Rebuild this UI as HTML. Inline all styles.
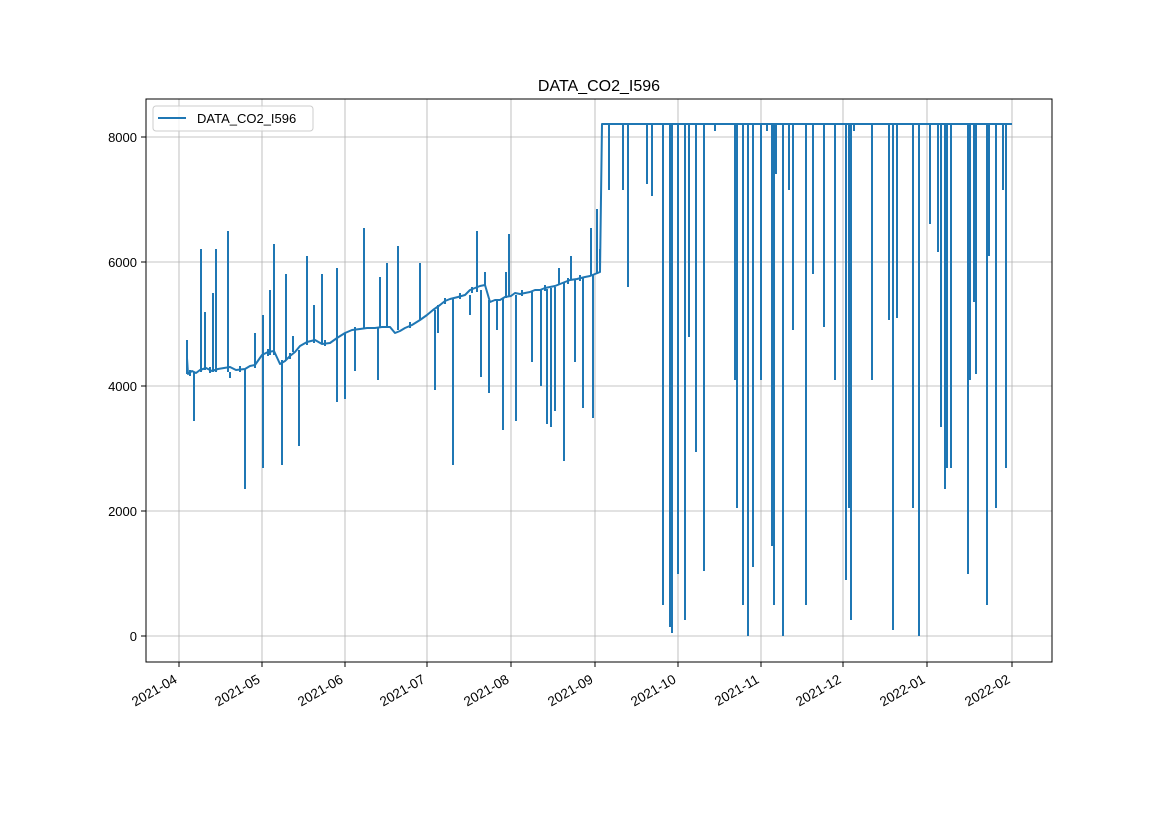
<!DOCTYPE html>
<html><head><meta charset="utf-8"><style>
html,body{margin:0;padding:0;background:#fff;}
svg{display:block;font-family:"Liberation Sans","DejaVu Sans",sans-serif;}
</style></head><body>
<svg width="1169" height="827" viewBox="0 0 1169 827" xmlns="http://www.w3.org/2000/svg">
<rect width="1169" height="827" fill="#fff"/>
<text x="599" y="91" font-size="16" text-anchor="middle">DATA_CO2_I596</text>
<g stroke="#b0b0b0" stroke-width="0.8">
<line x1="179" y1="99" x2="179" y2="662"/><line x1="262" y1="99" x2="262" y2="662"/>
<line x1="345" y1="99" x2="345" y2="662"/><line x1="427" y1="99" x2="427" y2="662"/>
<line x1="511" y1="99" x2="511" y2="662"/><line x1="595" y1="99" x2="595" y2="662"/>
<line x1="678" y1="99" x2="678" y2="662"/><line x1="761" y1="99" x2="761" y2="662"/>
<line x1="843" y1="99" x2="843" y2="662"/><line x1="927" y1="99" x2="927" y2="662"/>
<line x1="1012" y1="99" x2="1012" y2="662"/>
<line x1="146" y1="137" x2="1052" y2="137"/><line x1="146" y1="262" x2="1052" y2="262"/>
<line x1="146" y1="386" x2="1052" y2="386"/><line x1="146" y1="511" x2="1052" y2="511"/>
<line x1="146" y1="636" x2="1052" y2="636"/>
</g>
<g fill="none" stroke="#1f77b4" stroke-width="2" stroke-linejoin="round">
<path d="M187 358 L188 374 L192 371 L196 373 L200 370 L206 368 L212 371 L218 369 L224 368 L230 367 L236 370 L245 369 L250 366 L255 365 L262 355 L268 352 L274 351 L280 364 L285 361 L290 356 L295 352 L300 346 L307 342 L315 340 L322 344 L330 343 L337 338 L345 333 L352 330 L360 329 L367 328 L375 328 L382 327 L390 327 L395 333 L400 331 L405 328 L412 325 L420 320 L427 315 L433 310 L440 305 L445 301 L450 299 L458 297 L465 295 L470 290 L475 288 L480 286 L485 285 L490 302 L495 300 L500 300 L505 297 L511 296 L515 293 L520 294 L525 293 L530 292 L535 290 L540 290 L545 288 L550 287 L555 286 L560 284 L565 282 L570 280 L577 279 L585 277 L590 276 L595 274 L600 272 L602 124 L1012 124"/>
<path d="M190 370V376 M210 367V373 M240 366V372 M268 349V356 M290 353V359 M325 340V346 M355 327V333 M410 322V328 M445 298V304 M460 293V299 M472 287V293 M522 290V296 M545 285V291 M568 278V284 M580 275V281"/>
<path d="M187 340V374 M194 421V372 M201 249V372 M205 312V370 M213 293V372 M216 249V372 M228 231V372 M230 372V378 M245 489V369 M255 333V368 M263 315V468 M270 290V355 M274 244V355 M282 465V360 M286 274V360 M293 336V352 M299 446V350 M307 256V345 M314 305V343 M322 274V343 M337 268V402 M345 399V333 M355 371V330 M364 228V329 M378 380V328 M380 277V328 M387 263V328 M398 246V330 M420 263V320 M435 390V310 M438 333V305 M453 465V299 M470 315V295 M477 231V292 M481 377V290 M485 272V285 M489 393V300 M497 330V300 M503 430V298 M506 272V298 M509 234V296 M516 421V295 M532 362V292 M541 386V290 M547 424V289 M551 427V288 M555 411V287 M559 268V285 M564 461V283 M571 256V280 M575 362V280 M583 408V278 M591 228V276 M593 418V275 M597 209V274 M600 249V272"/>
<path d="M609 124V190 M623 124V190 M628 124V287 M647 124V184 M652 124V196 M663 124V605 M670 124V627 M672 124V633 M678 124V574 M685 124V620 M689 124V337 M696 124V452 M704 124V571 M715 124V131 M735 124V380 M737 124V508 M743 124V605 M748 124V636 M753 124V567 M761 124V380 M767 124V131 M772 124V546 M774 124V605 M776 124V174 M783 124V636 M789 124V190 M793 124V330 M806 124V605 M813 124V274 M824 124V327 M835 124V380 M846 124V580 M849 124V508 M851 124V620 M854 124V131 M872 124V380 M889 124V320 M893 124V630 M897 124V318 M913 124V508 M919 124V636 M930 124V224 M938 124V252 M941 124V427 M945 124V489 M947 124V468 M951 124V468 M968 124V574 M970 124V380 M974 124V302 M976 124V374 M987 124V605 M989 124V256 M996 124V508 M1003 124V190 M1006 124V468"/>
</g>
<rect x="146" y="99" width="906" height="563" fill="none" stroke="#000" stroke-width="1"/>
<g stroke="#000" stroke-width="1">
<line x1="141" y1="137" x2="146" y2="137"/><line x1="141" y1="262" x2="146" y2="262"/>
<line x1="141" y1="386" x2="146" y2="386"/><line x1="141" y1="511" x2="146" y2="511"/>
<line x1="141" y1="636" x2="146" y2="636"/>
<line x1="179" y1="662" x2="179" y2="667"/><line x1="262" y1="662" x2="262" y2="667"/>
<line x1="345" y1="662" x2="345" y2="667"/><line x1="427" y1="662" x2="427" y2="667"/>
<line x1="511" y1="662" x2="511" y2="667"/><line x1="595" y1="662" x2="595" y2="667"/>
<line x1="678" y1="662" x2="678" y2="667"/><line x1="761" y1="662" x2="761" y2="667"/>
<line x1="843" y1="662" x2="843" y2="667"/><line x1="927" y1="662" x2="927" y2="667"/>
<line x1="1012" y1="662" x2="1012" y2="667"/>
</g>
<g font-size="13" text-anchor="end">
<text x="137" y="142">8000</text><text x="137" y="267">6000</text>
<text x="137" y="391">4000</text><text x="137" y="516">2000</text><text x="137" y="641">0</text>
</g>
<g font-size="13.5" text-anchor="end">
<text transform="translate(178,682) rotate(-30)">2021-04</text>
<text transform="translate(261,682) rotate(-30)">2021-05</text>
<text transform="translate(344,682) rotate(-30)">2021-06</text>
<text transform="translate(426,682) rotate(-30)">2021-07</text>
<text transform="translate(510,682) rotate(-30)">2021-08</text>
<text transform="translate(594,682) rotate(-30)">2021-09</text>
<text transform="translate(677,682) rotate(-30)">2021-10</text>
<text transform="translate(760,682) rotate(-30)">2021-11</text>
<text transform="translate(842,682) rotate(-30)">2021-12</text>
<text transform="translate(926,682) rotate(-30)">2022-01</text>
<text transform="translate(1011,682) rotate(-30)">2022-02</text>
</g>
<rect x="153" y="106" width="160" height="25" rx="3" fill="#fff" fill-opacity="0.8" stroke="#ccc"/>
<line x1="158" y1="118" x2="186" y2="118" stroke="#1f77b4" stroke-width="2"/>
<text x="197" y="123" font-size="13">DATA_CO2_I596</text>
</svg>
</body></html>
